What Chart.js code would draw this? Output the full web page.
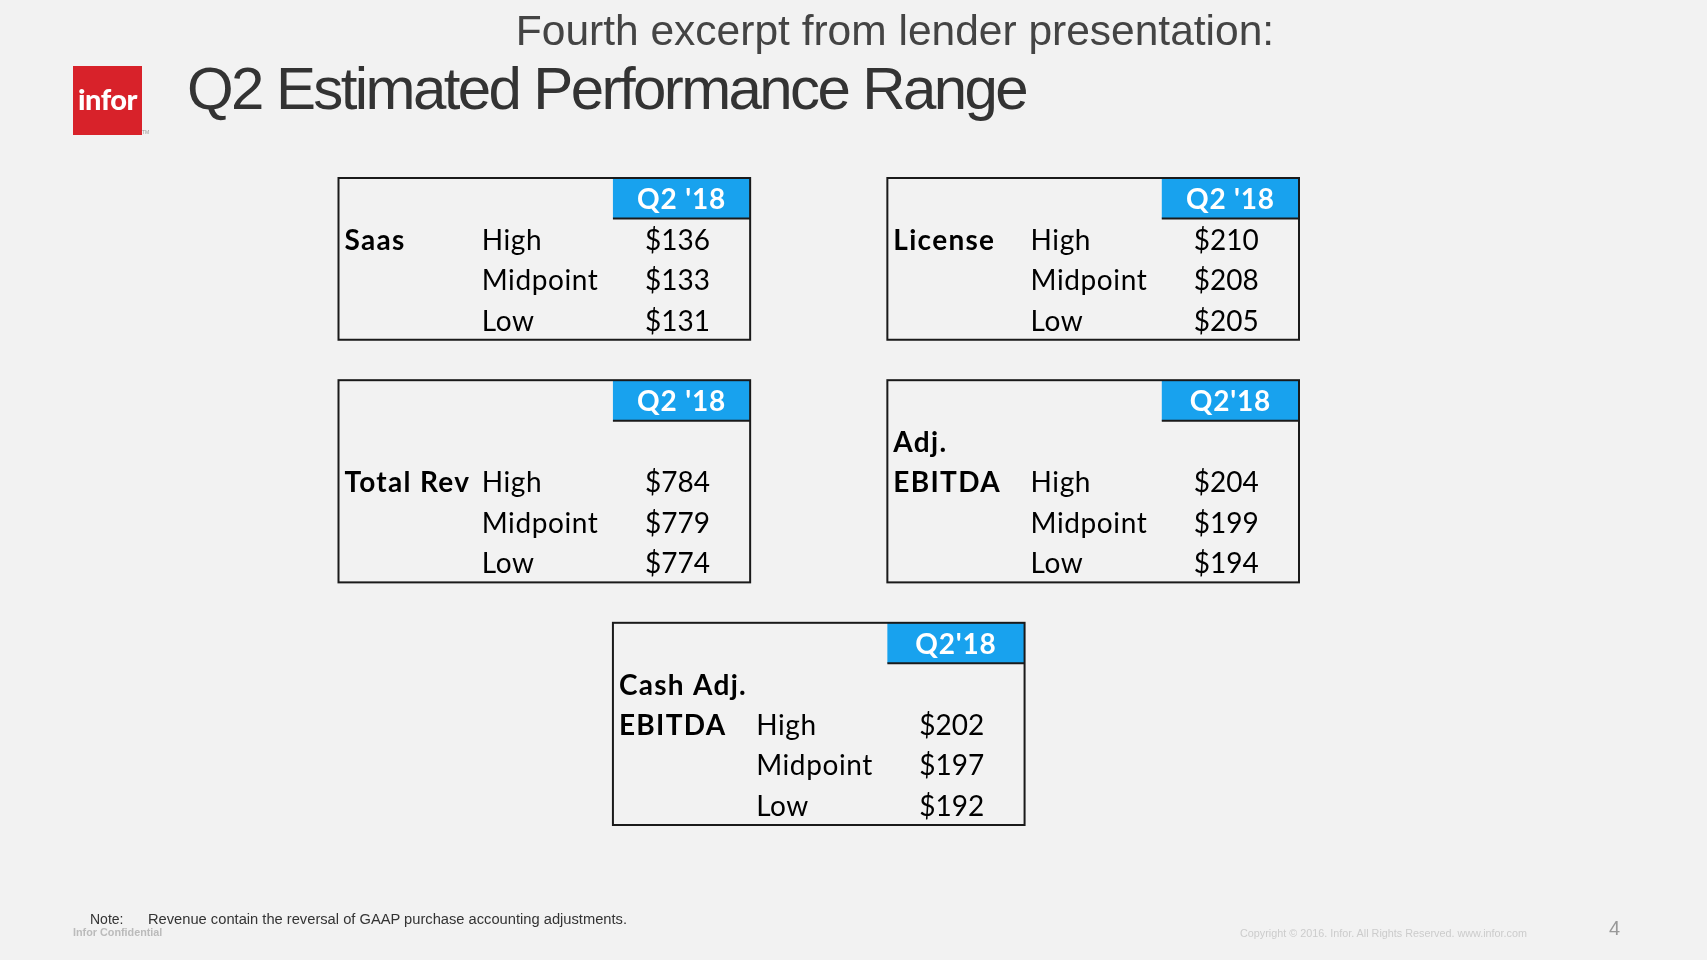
<!DOCTYPE html>
<html>
<head>
<meta charset="utf-8">
<script src="https://cdn.jsdelivr.net/npm/chart.js@4.4.0/dist/chart.umd.min.js"></script>
<style>
  html, body { margin: 0; padding: 0; }
  body { width: 1707px; height: 960px; background: #f2f2f2; position: relative; overflow: hidden;
         font-family: "Liberation Sans", Arial, sans-serif; }
  #slide { position: absolute; left: 0; top: 0; }
  .abs { position: absolute; white-space: nowrap; }
  #subtitle { left: 0; width: 1790px; text-align: center; top: 7px; font-size: 42.5px; color: #444; letter-spacing: 0px; }
  #title { left: 187px; top: 54px; font-size: 60px; color: #333; letter-spacing: -2.6px; }
  #logo { left: 73px; top: 66px; width: 69px; height: 69px; background: #d8222a; }
  #logo span { position: absolute; left: 0; width: 69px; top: 15px; text-align: center; color: #fff;
               font-family: Lato, sans-serif; font-weight: 900; font-size: 29px; letter-spacing: -0.5px; }
  #tm { left: 142px; top: 129px; font-size: 5px; color: #999; }
  #note { left: 90px; top: 911px; font-size: 14px; color: #333; }
  #note2 { left: 148px; top: 911px; font-size: 14.7px; color: #333; }
  #conf { left: 73px; top: 926px; font-size: 10.8px; color: #bbb; font-weight: bold; }
  #copy { left: 1240px; top: 927px; font-size: 10.8px; color: #ccc; }
  #page { left: 1609px; top: 917px; font-size: 20px; color: #999; }
</style>
</head>
<body>
<canvas id="slide" width="1707" height="960"></canvas>
<div class="abs" id="subtitle">Fourth excerpt from lender presentation:</div>
<div class="abs" id="logo"><span>infor</span></div>
<div class="abs" id="tm">TM</div>
<div class="abs" id="title">Q2 Estimated Performance Range</div>
<div class="abs" id="note">Note:</div>
<div class="abs" id="note2">Revenue contain the reversal of GAAP purchase accounting adjustments.</div>
<div class="abs" id="conf">Infor Confidential</div>
<div class="abs" id="copy">Copyright © 2016. Infor. All Rights Reserved. www.infor.com</div>
<div class="abs" id="page">4</div>
<script>
// table data
const categories = ["Saas", "License", "Total Rev", "Adj.\nEBITDA", "Cash Adj.\nEBITDA"];
const periodLabels = ["Q2 '18", "Q2 '18", "Q2 '18", "Q2'18", "Q2'18"];
const rowLabels = ["High", "Midpoint", "Low"];
const highValues = [136, 210, 784, 204, 202];
const midValues = [133, 208, 779, 199, 197];
const lowValues = [131, 205, 774, 194, 192];

// where each table sits on the grid (column, row) and how many empty rows before "High"
const slots = [[0, 0], [4, 0], [0, 5], [4, 5], [2, 11]];
const spacerRows = [0, 0, 1, 1, 1];

const blue = "#18a2ee";
const ink = "#1a1a1a";
const cellFont = "Lato, 'Open Sans', sans-serif";

const points = [];
slots.forEach((s, i) => {
  [highValues, midValues, lowValues].forEach((arr, j) => {
    points.push({ x: s[0] + 2, y: s[1] + 1 + spacerRows[i] + j + 0.5, v: arr[i] });
  });
});

const tablePlugin = {
  id: 'tables',
  afterDatasetsDraw(chart) {
    const ctx = chart.ctx;
    const xs = chart.scales.x, ys = chart.scales.y;
    ctx.save();
    slots.forEach((s, i) => {
      const c0 = s[0], r0 = s[1];
      const nRows = 1 + spacerRows[i] + rowLabels.length;
      const left = xs.getPixelForValue(c0), right = xs.getPixelForValue(c0 + 3);
      const top = ys.getPixelForValue(r0), bottom = ys.getPixelForValue(r0 + nRows);
      const hx = xs.getPixelForValue(c0 + 2), hy = ys.getPixelForValue(r0 + 1);

      // header cell
      ctx.fillStyle = blue;
      ctx.fillRect(hx, top, right - hx, hy - top);
      ctx.strokeStyle = ink;
      ctx.lineWidth = 2;
      ctx.beginPath();
      ctx.moveTo(hx, hy);
      ctx.lineTo(right, hy);
      ctx.stroke();
      ctx.strokeRect(left, top, right - left, bottom - top);

      ctx.textBaseline = 'middle';
      ctx.fillStyle = '#fff';
      ctx.textAlign = 'center';
      ctx.font = "bold 28px " + cellFont;
      ctx.letterSpacing = "0.8px";
      ctx.fillText(periodLabels[i], (hx + right) / 2, ys.getPixelForValue(r0 + 0.5) + 2);

      // category label, last line sits on the "High" row
      ctx.textAlign = 'left';
      ctx.fillStyle = '#000';
      const lines = categories[i].split("\n");
      const highRow = r0 + 1 + spacerRows[i];
      ctx.font = "bold 28px " + cellFont;
      ctx.letterSpacing = "1.3px";
      lines.forEach((ln, k) => {
        const row = highRow - (lines.length - 1 - k);
        ctx.fillText(ln, left + 6, ys.getPixelForValue(row + 0.5) + 2);
      });

      ctx.font = "28px " + cellFont;
      ctx.letterSpacing = "0.6px";
      rowLabels.forEach((lab, j) => {
        ctx.fillText(lab, xs.getPixelForValue(c0 + 1) + 6, ys.getPixelForValue(highRow + j + 0.5) + 2);
      });
    });

    // values
    ctx.font = "28px " + cellFont;
    ctx.letterSpacing = "0px";
    ctx.textAlign = 'left';
    ctx.fillStyle = '#000';
    points.forEach(p => {
      ctx.fillText("$" + p.v, xs.getPixelForValue(p.x) + 32, ys.getPixelForValue(p.y) + 2);
    });
    ctx.restore();
  }
};

new Chart(document.getElementById('slide'), {
  type: 'scatter',
  data: { datasets: [{ data: points, pointRadius: 0, showLine: false }] },
  options: {
    responsive: false,
    animation: false,
    events: [],
    layout: { padding: { left: 338.5, top: 178, right: 408, bottom: 135 } },
    scales: {
      x: { type: 'linear', min: 0, max: 7, display: false },
      y: { type: 'linear', min: 0, max: 16, reverse: true, display: false }
    },
    plugins: { legend: { display: false }, tooltip: { enabled: false } }
  },
  plugins: [tablePlugin]
});
</script>
</body>
</html>
